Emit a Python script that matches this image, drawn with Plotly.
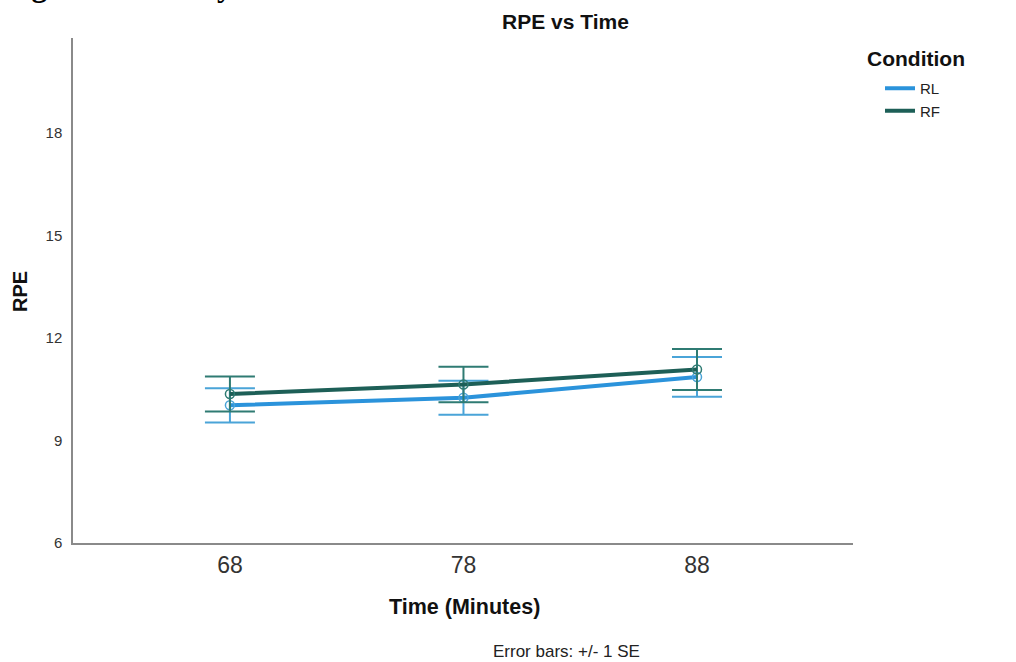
import plotly.graph_objects as go

# ---- data ----
time_min = [68, 78, 88]
tick_labels = ["68", "78", "88"]
series_names = ["RL", "RF"]
rl_mean = [10.03, 10.25, 10.86]
rl_se = [0.50, 0.50, 0.58]
rf_mean = [10.36, 10.64, 11.08]
rf_se = [0.51, 0.52, 0.60]
y_ticks = [6, 9, 12, 15, 18]

# ---- styling ----
RL_COLOR = "#2b93db"
RL_ERR = "#4aa4d8"
RF_COLOR = "#1d5f57"
RF_ERR = "#2f7b73"

W, H = 1016, 662
L, R, T, B = 73, 1016 - 853, 38, 662 - 543
PW, PH = W - L - R, H - T - B


def px(x):
    return (x - L) / PW


def py(y):
    return (H - B - y) / PH


fig = go.Figure()

for name, mean, se, col, ecol in [
    (series_names[0], rl_mean, rl_se, RL_COLOR, RL_ERR),
    (series_names[1], rf_mean, rf_se, RF_COLOR, RF_ERR),
]:
    fig.add_trace(go.Scatter(
        x=time_min, y=mean, name=name, mode="lines+markers", showlegend=False,
        legendgroup=name,
        line=dict(color=col, width=4),
        marker=dict(symbol="circle-open", size=9, color=ecol, line=dict(width=1.5, color=ecol)),
        error_y=dict(type="data", array=se, visible=True, color=ecol, thickness=2, width=25),
    ))
    # legend-only entry (line swatch without marker)
    fig.add_trace(go.Scatter(
        x=[None], y=[None], name=name, mode="lines", legendgroup=name,
        line=dict(color=col, width=4), showlegend=True,
    ))

fig.update_layout(
    width=W, height=H,
    margin=dict(l=L, r=R, t=T, b=B, autoexpand=False),
    paper_bgcolor="white", plot_bgcolor="white",
    font=dict(family="Arial, Liberation Sans, sans-serif", color="#222"),
    showlegend=True,
    legend=dict(
        x=px(880), y=py(72), xanchor="left", yanchor="top",
        font=dict(size=15, color="#222"),
        bgcolor="rgba(0,0,0,0)", tracegroupgap=0, itemwidth=30,
    ),
    xaxis=dict(
        range=[61.28, 94.68], tickvals=time_min, ticktext=tick_labels,
        showgrid=False, zeroline=False, showline=True, linecolor="#8a8a8a", linewidth=1.5,
        ticks="", ticklabelstandoff=1,
        tickfont=dict(family="Liberation Sans Narrow, Arial Narrow, sans-serif", size=23, color="#333"),
    ),
    yaxis=dict(
        range=[6, 6 + (543 - 38) / 34.17], tickvals=y_ticks,
        showgrid=False, zeroline=False, showline=True, linecolor="#8a8a8a", linewidth=1.5,
        ticks="", ticklabelstandoff=6,
        tickfont=dict(size=15, color="#333"),
    ),
    annotations=[
        dict(text="<b>RPE vs Time</b>", x=px(565), y=py(22), xref="paper", yref="paper",
             xanchor="center", yanchor="middle",
             showarrow=False, font=dict(size=21, color="#111")),
        dict(text="<b>Condition</b>", x=px(865), y=py(58), xref="paper", yref="paper",
             xanchor="left", yanchor="middle",
             showarrow=False, font=dict(size=21, color="#111")),
        dict(text="<b>RPE</b>", x=px(20), y=py(292), xref="paper", yref="paper",
             xanchor="center", yanchor="middle",
             showarrow=False, textangle=-90, font=dict(size=20, color="#111")),
        dict(text="<b>Time (Minutes)</b>", x=px(464), y=py(607), xref="paper", yref="paper",
             xanchor="center", yanchor="middle",
             showarrow=False, font=dict(size=21.5, color="#111")),
        dict(text="Error bars: +/- 1 SE", x=px(566), y=py(651), xref="paper", yref="paper",
             xanchor="center", yanchor="middle",
             showarrow=False, font=dict(size=17, color="#222")),
        dict(text="<b>Figure 4. RPE by Condition</b>", x=px(2), y=py(5), xref="paper", yref="paper",
             xanchor="left", yanchor="bottom", showarrow=False,
             font=dict(family="Liberation Serif, Times New Roman, serif", size=31, color="#000")),
    ],
)

fig.write_html("out.html")
